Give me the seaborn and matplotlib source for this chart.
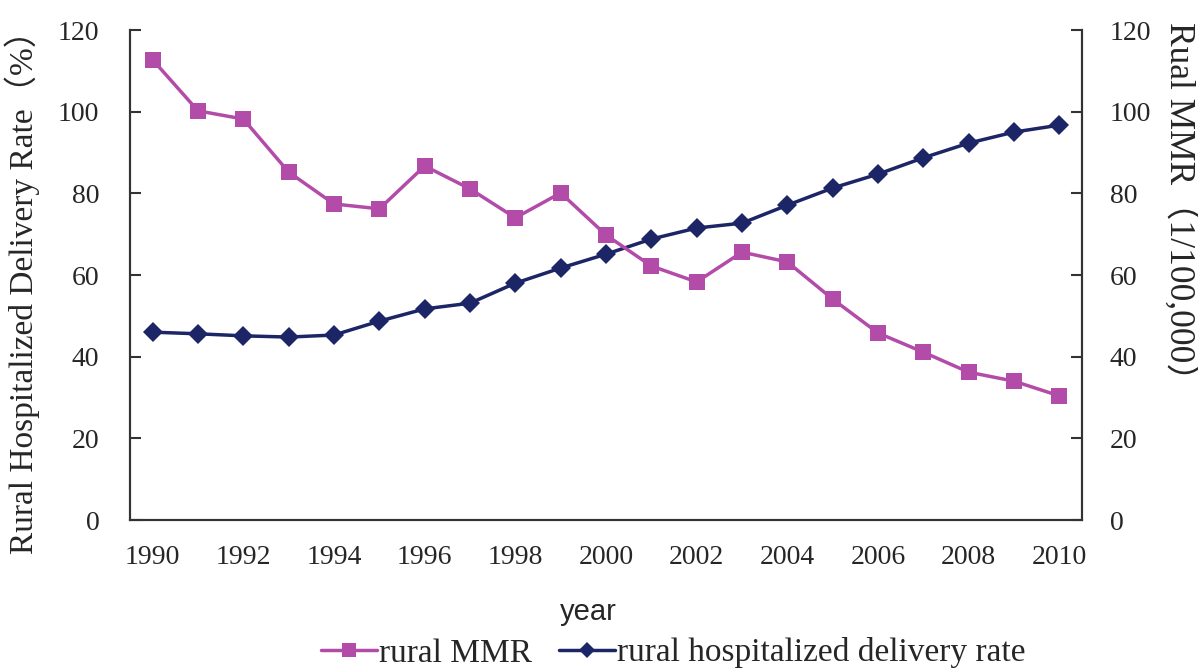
import numpy as np
import pandas as pd
import seaborn as sns
import matplotlib.pyplot as plt
from matplotlib.ticker import MultipleLocator

# data
years = list(range(1990, 2011))
mmr = [112.7, 100.2, 98.2, 85.2, 77.4, 76.2, 86.7, 81.1, 74.0, 80.1, 69.8,
       62.2, 58.3, 65.6, 63.2, 54.1, 45.8, 41.1, 36.2, 34.0, 30.4]
delivery = [46.0, 45.6, 45.1, 44.8, 45.3, 48.7, 51.7, 53.1, 58.0, 61.7, 65.1,
            68.8, 71.5, 72.7, 77.1, 81.3, 84.7, 88.7, 92.3, 95.0, 96.7]
xlabels = [str(y) for y in years[::2]]

sns.set_style("white")
serif = ['Liberation Serif', 'Noto Sans CJK SC', 'DejaVu Serif']
plt.rcParams['font.family'] = serif

df = pd.DataFrame({"pos": np.arange(len(years)), "year": years,
                   "mmr": mmr, "delivery": delivery})

pink = "#B24CA8"
navy = "#1C2566"

fig = plt.figure(figsize=(11.98, 6.72), dpi=100)
ax = fig.add_axes([130/1198, 1-520/672, (1082-130)/1198, (520-30)/672])
ax2 = ax.twinx()

sns.lineplot(data=df, x="pos", y="delivery", ax=ax, color=navy, marker="D",
             markersize=10, linewidth=2.5, markeredgewidth=0, sort=False,
             label="rural hospitalized delivery rate", legend=False)
sns.lineplot(data=df, x="pos", y="mmr", ax=ax2, color=pink, marker="s",
             markersize=12, linewidth=2.5, markeredgewidth=0, sort=False,
             label="rural MMR", legend=False)

for a in (ax, ax2):
    a.set_ylim(0, 120)
    a.yaxis.set_major_locator(MultipleLocator(20))
    a.set_xlim(-0.5, len(years) - 0.5)
    for s in a.spines.values():
        s.set_color("#333333")
        s.set_linewidth(1.5)
    a.spines["top"].set_visible(False)

ax.set_xticks(np.arange(0, len(years), 2))
ax.set_xticklabels(xlabels)
ax.set_xticks(np.arange(0.5, len(years) - 1, 1), minor=True)
ax.tick_params(axis="x", which="major", length=0, pad=18, labelsize=20)
ax.tick_params(axis="x", which="minor", direction="in", length=8, width=1.5, color="#333333")
ax.tick_params(axis="y", direction="in", length=8, width=1.5, color="#333333",
               labelsize=20, pad=22, left=True)
ax2.tick_params(axis="y", direction="in", length=8, width=1.5, color="#333333",
                labelsize=20, pad=20, right=True)

ax.set_xlabel("")
ax.set_ylabel("")
ax2.set_ylabel("")
fig.text(22/1198, 1-14/672, "Rural Hospitalized Delivery Rate（%）", rotation=90,
         ha="center", va="top", fontsize=24, family=serif)
fig.text(1180/1198, 1-22/672, "Rual MMR（1/100,000）", rotation=-90,
         ha="center", va="top", fontsize=25.5, family=serif)
fig.text(588/1198, 1-612/672, "year", ha="center", va="center", fontsize=21,
         family=["Liberation Sans", "DejaVu Sans"])

h1, l1 = ax.get_legend_handles_labels()
h2, l2 = ax2.get_legend_handles_labels()
fig.legend(h2 + h1, l2 + l1, loc="center", bbox_to_anchor=(673/1198, 1-653/672),
           ncol=2, frameon=False, fontsize=24, handlelength=1.7, handletextpad=0.05,
           columnspacing=0.8, markerscale=0.8, borderpad=0)

fig.savefig("out.png", dpi=100)
